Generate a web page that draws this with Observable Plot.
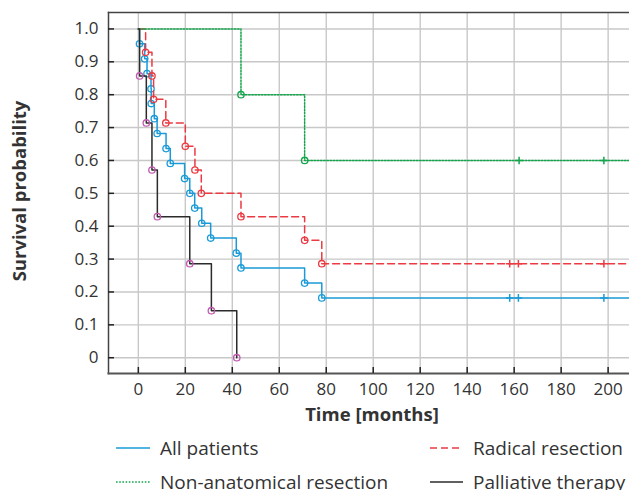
<!DOCTYPE html>
<html><head><meta charset="utf-8">
<script src="https://cdn.jsdelivr.net/npm/d3@7"></script>
<script src="https://cdn.jsdelivr.net/npm/@observablehq/plot@0.6"></script>
<style>
body{margin:0;background:#fff;font-family:"Open Sans",sans-serif;}
#wrap{position:relative;width:629px;height:490px;overflow:hidden;}
.leg{position:absolute;display:flex;align-items:center;height:24px;font-size:19px;color:#333;white-space:nowrap;}
.leg svg{margin-right:10px;flex:none;}
</style></head><body><div id="wrap"><div id="chart"></div></div>
<script>
// ---- data ----
const seriesNames = ["All patients", "Radical resection", "Non-anatomical resection", "Palliative therapy"];

const allTimes = [0.5, 2.7, 3.7, 5.4, 5.5, 6.8, 8.0, 11.8, 13.6, 19.7, 21.9, 24.0, 27.0, 30.8, 41.7, 43.7, 70.8, 78.1];
const allSurv  = [0.955, 0.909, 0.864, 0.818, 0.773, 0.727, 0.682, 0.636, 0.591, 0.545, 0.5, 0.455, 0.409, 0.364, 0.318, 0.273, 0.227, 0.182];
const allCensored = [158.1, 161.8, 198.2];

const radTimes = [3.1, 5.8, 6.5, 11.7, 20.0, 24.1, 26.8, 43.7, 70.8, 78.1];
const radSurv  = [0.929, 0.857, 0.786, 0.714, 0.643, 0.571, 0.5, 0.429, 0.357, 0.286];
const radCensored = [158.1, 161.8, 198.2];

const nonTimes = [43.7, 70.8];
const nonSurv  = [0.8, 0.6];
const nonCensored = [162.1, 198.2];

const palTimes = [0.55, 3.4, 5.8, 8.1, 21.9, 31.1, 41.9];
const palSurv  = [0.857, 0.714, 0.571, 0.429, 0.286, 0.143, 0];
const palCensored = [];

const followUpEnd = [215, 215, 215, 41.9];

const xTicks = [0, 20, 40, 60, 80, 100, 120, 140, 160, 180, 200];
const yTicks = [0, 0.1, 0.2, 0.3, 0.4, 0.5, 0.6, 0.7, 0.8, 0.9, 1.0];
const yTickLabels = ["0", "0.1", "0.2", "0.3", "0.4", "0.5", "0.6", "0.7", "0.8", "0.9", "1.0"];

// ---- styles ----
const styles = [
  {color: "#1a9bd8", marker: "#1a9bd8", dash: null},
  {color: "#ec3a43", marker: "#ec3a43", dash: "7,4"},
  {color: "#13a54b", marker: "#13a54b", dash: "1.6,1.6"},
  {color: "#2b2b2b", marker: "#c25bb0", dash: null}
];

const raw = [
  [allTimes, allSurv, allCensored],
  [radTimes, radSurv, radCensored],
  [nonTimes, nonSurv, nonCensored],
  [palTimes, palSurv, palCensored]
];

const series = raw.map(([t, s, c], i) => {
  const events = t.map((ti, j) => ({t: ti, s: s[j]}));
  const last = s[s.length - 1];
  const path = [{t: 0, s: 1}, ...events, {t: followUpEnd[i], s: last}];
  const cens = c.map(ci => ({t: ci, s: last}));
  return {name: seriesNames[i], events, path, cens, ...styles[i]};
});

const plusSym = {
  draw(ctx, size) {
    const r = Math.sqrt(size / Math.PI);
    ctx.moveTo(-r, 0); ctx.lineTo(r, 0);
    ctx.moveTo(0, -r); ctx.lineTo(0, r);
  }
};

const order = [0, 1, 2, 3];
const curveMarks = order.flatMap(i => {
  const s = series[i];
  return [
    Plot.line(s.path, {x: "t", y: "s", curve: "step-after", stroke: s.color, strokeWidth: 1.5, strokeDasharray: s.dash, clip: true}),
    Plot.dot(s.events, {x: "t", y: "s", r: 3.2, stroke: s.marker, strokeWidth: 1.3, fill: "none", clip: true}),
    Plot.dot(s.cens, {x: "t", y: "s", r: 3.8, symbol: plusSym, stroke: s.color, strokeWidth: 1.5, fill: "none", clip: true})
  ];
});

const chart = Plot.plot({
  width: 629,
  height: 430,
  marginLeft: 108,
  marginRight: 0,
  marginTop: 12,
  marginBottom: 57,
  style: {fontFamily: "Open Sans, sans-serif", fontSize: "17px", color: "#333", background: "#fff"},
  x: {domain: [-12.7, 209.1]},
  y: {domain: [-0.048, 1.05]},
  marks: [
    Plot.gridX(xTicks, {stroke: "#c8c8c8", strokeOpacity: 1, strokeWidth: 1.4}),
    Plot.gridY(yTicks, {stroke: "#c8c8c8", strokeOpacity: 1, strokeWidth: 1.4}),
    ...curveMarks,
    Plot.frame({anchor: "top", stroke: "#444", strokeWidth: 1.5}),
    Plot.frame({anchor: "left", stroke: "#444", strokeWidth: 1.5}),
    Plot.frame({anchor: "bottom", stroke: "#555", strokeWidth: 2}),
    Plot.axisX(xTicks, {tickSize: -6, tickPadding: 15, label: null, stroke: "#222", strokeWidth: 1.5}),
    Plot.axisY(yTicks, {tickSize: -6, tickPadding: 16, label: null, tickFormat: (d, i) => yTickLabels[i], stroke: "#222", strokeWidth: 1.5}),
    Plot.text(["Time [months]"], {frameAnchor: "bottom", dy: 47, dx: 3, text: d => d, fontWeight: "bold", fontSize: 18.5, fill: "#333"}),
    Plot.text(["Survival probability"], {frameAnchor: "left", textAnchor: "middle", lineAnchor: "middle", dx: -88, dy: -2, rotate: -90, text: d => d, fontWeight: "bold", fontSize: 18.5, fill: "#333"})
  ]
});
document.getElementById("chart").appendChild(chart);

// ---- legend (HTML, below the SVG) ----
const legendPos = [
  {left: 116, top: 436, w: 34},
  {left: 430, top: 436, w: 33},
  {left: 116, top: 470, w: 34},
  {left: 430, top: 470, w: 33}
];
const wrap = document.getElementById("wrap");
series.forEach((s, i) => {
  const p = legendPos[i];
  const div = document.createElement("div");
  div.className = "leg";
  div.style.left = p.left + "px";
  div.style.top = p.top + "px";
  div.innerHTML = `<svg width="${p.w}" height="10"><line x1="0" x2="${p.w}" y1="5" y2="5" stroke="${s.color}" stroke-width="1.5" ${s.dash ? `stroke-dasharray="${s.dash}"` : ""}/></svg><span>${s.name}</span>`;
  wrap.appendChild(div);
});
</script>
</body></html>
